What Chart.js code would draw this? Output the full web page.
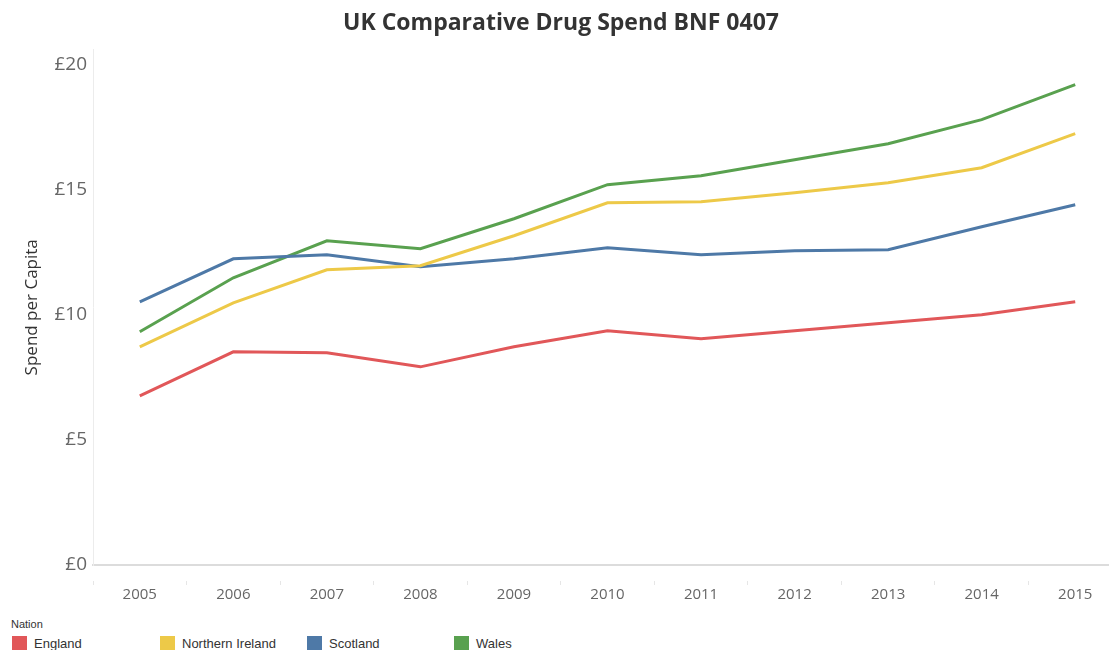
<!DOCTYPE html>
<html>
<head>
<meta charset="utf-8">
<script src="https://cdn.jsdelivr.net/npm/chart.js@4/dist/chart.umd.min.js"></script>
<style>
  html, body { margin: 0; padding: 0; background: #fff; overflow: hidden; }
  #wrap { position: relative; width: 1125px; height: 612px; }
  #chart-bnf { display: block; width: 1125px; height: 612px; }
  #legend { position: absolute; left: 0; top: 612px; width: 1109px; font-family: "Liberation Sans", Arial, sans-serif; color: #333; }
  #legend .head { position: absolute; left: 11px; top: 6px; font-size: 11px; }
  #legend .item { position: absolute; top: 24px; font-size: 13px; white-space: nowrap; }
  #legend .sw { display: inline-block; width: 15px; height: 14px; vertical-align: -2px; margin-right: 7px; }
</style>
</head>
<body>
<div id="wrap"><canvas id="chart-bnf" width="1125" height="612"></canvas></div>
<div id="legend"><div class="head">Nation</div></div>
<script>
// ── DADOS ───────────────────────────────────────
const anos = ['2005','2006','2007','2008','2009','2010','2011','2012','2013','2014','2015'];

const england   = [6.76, 8.52, 8.48, 7.92, 8.72, 9.36, 9.04, 9.36, 9.68, 10.00, 10.52];
const nIreland  = [8.72, 10.48, 11.80, 11.96, 13.16, 14.48, 14.52, 14.88, 15.28, 15.88, 17.24];
const scotland  = [10.52, 12.24, 12.40, 11.92, 12.24, 12.68, 12.40, 12.56, 12.60, 13.52, 14.40];
const wales     = [9.32, 11.48, 12.96, 12.64, 13.84, 15.20, 15.56, 16.20, 16.84, 17.80, 19.20];

const yTicks = [0, 5, 10, 15, 20];

const series = [
  { label: 'England',          data: england,  color: '#e15759', legendX: 12 },
  { label: 'Northern Ireland', data: nIreland, color: '#edc948', legendX: 160 },
  { label: 'Scotland',         data: scotland, color: '#4e79a7', legendX: 307 },
  { label: 'Wales',            data: wales,    color: '#59a14f', legendX: 454 }
];

// ── GRÁFICO ─────────────────────────────────────
const ctx = document.getElementById('chart-bnf').getContext('2d');
const chartBnf = new Chart(ctx, {
  type: 'line',
  data: {
    labels: anos,
    datasets: series.map(s => ({
      label: s.label,
      data: s.data,
      borderColor: s.color,
      backgroundColor: s.color,
      borderWidth: 3,
      pointRadius: 0,
      tension: 0,
      fill: false
    }))
  },
  options: {
    responsive: false,
    animation: false,
    devicePixelRatio: 1,
    layout: { padding: { left: 0, right: 3, top: 0, bottom: 0 } },
    plugins: {
      legend: { display: false },
      tooltip: { enabled: false },
      title: {
        display: true,
        text: 'UK Comparative Drug Spend BNF 0407',
        color: '#333',
        font: { family: '"Open Sans", sans-serif', size: 23, weight: 'bold' },
        padding: { top: 10, bottom: 12 }
      }
    },
    scales: {
      x: {
        offset: true,
        // marcas curtas, afastadas da linha do zero
        grid: {
          drawOnChartArea: false, drawTicks: true, tickLength: 20,
          color: '#e6e6e6', offset: true, tickBorderDash: [0, 15, 5, 50]
        },
        border: { display: true, color: '#dcdcdc', width: 2 },
        ticks: { color: '#666', font: { family: '"Open Sans", sans-serif', size: 15 }, padding: 1, maxRotation: 0 },
        afterFit: scale => { scale.height = 47; }
      },
      y: {
        min: 0,
        max: 20.6,
        afterBuildTicks: scale => { scale.ticks = yTicks.map(v => ({ value: v })); },
        grid: { display: false, drawTicks: false },
        border: { display: true, color: '#ececec', width: 1 },
        ticks: {
          color: '#666',
          font: { family: '"Open Sans", sans-serif', size: 19 },
          padding: 6,
          callback: v => '£' + v
        },
        title: {
          display: true,
          text: 'Spend per Capita',
          color: '#333',
          font: { family: '"Open Sans", sans-serif', size: 17 },
          padding: { top: 22, bottom: 0 }
        },
        afterFit: scale => { scale.width = 93; }
      }
    }
  }
});

// ── LEGENDA ─────────────────────────────────────
const legend = document.getElementById('legend');
series.forEach(s => {
  const el = document.createElement('div');
  el.className = 'item';
  el.style.left = s.legendX + 'px';
  el.innerHTML = `<span class="sw" style="background:${s.color}"></span>${s.label}`;
  legend.appendChild(el);
});
</script>
</body>
</html>
